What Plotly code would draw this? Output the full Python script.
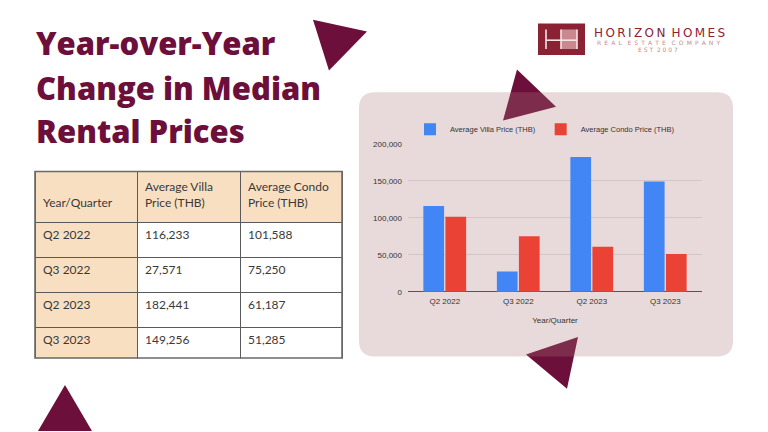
import plotly.graph_objects as go

# ---------------- data ----------------
quarters = ["Q2 2022", "Q3 2022", "Q2 2023", "Q3 2023"]
villa_prices = [116233, 27571, 182441, 149256]
condo_prices = [101588, 75250, 61187, 51285]
series_names = ["Average Villa Price (THB)", "Average Condo Price (THB)"]
table_headers = ["Year/Quarter", "Average Villa<br>Price (THB)", "Average Condo<br>Price (THB)"]
title_lines = ["Year-over-Year", "Change in Median", "Rental Prices"]
y_ticks = [0, 50000, 100000, 150000, 200000]

W, H = 768, 432
MAROON = "#6d0f3b"
PEACH = "#f9dfc1"
BLUE = "#4285f4"
RED = "#ea4335"


def px(x):
    return x / W


def py(y):
    return 1 - y / H


def poly(points):
    return "M " + " L ".join(f"{px(x):.5f},{py(y):.5f}" for x, y in points) + " Z"


def rounded_rect(x0, y0, x1, y1, r):
    rx, ry = r / W, r / H
    X0, X1 = px(x0), px(x1)
    Y0, Y1 = py(y0), py(y1)
    return (
        f"M {X0+rx},{Y0} L {X1-rx},{Y0} Q {X1},{Y0} {X1},{Y0-ry} "
        f"L {X1},{Y1+ry} Q {X1},{Y1} {X1-rx},{Y1} "
        f"L {X0+rx},{Y1} Q {X0},{Y1} {X0},{Y1+ry} "
        f"L {X0},{Y0-ry} Q {X0},{Y0} {X0+rx},{Y0} Z"
    )


fig = go.Figure()

fig.add_trace(go.Bar(x=quarters, y=villa_prices, name=series_names[0],
                     marker=dict(color=BLUE, line=dict(width=0))))
fig.add_trace(go.Bar(x=quarters, y=condo_prices, name=series_names[1],
                     marker=dict(color=RED, line=dict(width=0))))

fig.add_trace(go.Table(
    domain=dict(x=[px(35), px(342)], y=[py(362), py(171)]),
    columnwidth=[102, 103, 102],
    header=dict(values=["\u00a0<br>" + table_headers[0]] + table_headers[1:],
                fill_color=PEACH, align="left",
                line=dict(color="#5a5a5a", width=1),
                font=dict(family="Lato", size=12, color="#3a3a3a"), height=51),
    cells=dict(values=[quarters,
                       [f"{v:,}" for v in villa_prices],
                       [f"{v:,}" for v in condo_prices]],
               fill_color=[[PEACH] * len(quarters), ["white"] * len(quarters), ["white"] * len(quarters)],
               align="left", line=dict(color="#5a5a5a", width=1),
               font=dict(family="Lato", size=12, color="#3a3a3a"), height=35),
))

P = dict(xref="paper", yref="paper")
shapes = []
shapes.append(dict(type="path", path=poly([(313, 16), (367, 28), (329, 68)]),
                   fillcolor=MAROON, line=dict(width=0), layer="below", **P))
shapes.append(dict(type="path", path=poly([(517, 67), (556, 105), (503, 119)]),
                   fillcolor=MAROON, line=dict(width=0), layer="below", **P))
shapes.append(dict(type="path", path=poly([(578, 340), (526, 358), (567, 393)]),
                   fillcolor=MAROON, line=dict(width=0), layer="below", **P))
shapes.append(dict(type="path", path=poly([(65, 389), (38, 436), (92, 436)]),
                   fillcolor=MAROON, line=dict(width=0), layer="below", **P))
shapes.append(dict(type="path", path=rounded_rect(359, 90, 733, 360, 16),
                   fillcolor="rgba(173,123,123,0.28)", line=dict(width=0), layer="below", **P))
# table outer border
shapes.append(dict(type="rect", x0=px(35), x1=px(342), y0=py(361.5), y1=py(171),
                   fillcolor="rgba(0,0,0,0)", line=dict(color="#6a6a6a", width=1.6),
                   layer="above", **P))
# logo
shapes.append(dict(type="rect", x0=px(538), x1=px(585), y0=py(52), y1=py(20),
                   fillcolor="#8b2233", line=dict(width=0), layer="above", **P))
shapes.append(dict(type="rect", x0=px(561), x1=px(577), y0=py(46), y1=py(26),
                   fillcolor="#c9898f", line=dict(width=0), layer="above", **P))
for xx in (546, 561, 577):
    shapes.append(dict(type="line", x0=px(xx), x1=px(xx), y0=py(46), y1=py(26),
                       line=dict(color="#f4e6e6", width=1.6), layer="above", **P))
shapes.append(dict(type="line", x0=px(546), x1=px(577), y0=py(37), y1=py(37),
                   line=dict(color="#f4e6e6", width=1.6), layer="above", **P))

annotations = []
for i, (line, yc) in enumerate(zip(title_lines, [39.5, 86, 129.5])):
    annotations.append(dict(text=line, x=px(34), y=py(yc), xref="paper", yref="paper",
                            xanchor="left", yanchor="middle", showarrow=False,
                            font=dict(family="Open Sans", size=31, color=MAROON, weight=800)))

TS = "\u2009"
brand = (" " + TS).join([TS.join(list(w)) for w in ["HORIZON", "HOMES"]])
sub = "   ".join([(" " + TS).join(list(w)) for w in ["REAL", "ESTATE", "COMPANY"]])
annotations.append(dict(text=brand, x=px(659), y=py(30), xref="paper", yref="paper",
                        xanchor="center", yanchor="middle", showarrow=False,
                        font=dict(family="DejaVu Sans", size=12, color="#8b2233")))
annotations.append(dict(text=sub, x=px(658), y=py(39.5), xref="paper", yref="paper",
                        xanchor="center", yanchor="middle", showarrow=False,
                        font=dict(family="DejaVu Sans", size=6, color="#c08a92")))
annotations.append(dict(text="E S T  2 0 0 7", x=px(658), y=py(46.5), xref="paper", yref="paper",
                        xanchor="center", yanchor="middle", showarrow=False,
                        font=dict(family="DejaVu Sans", size=6, color="#c08a92")))

fig.update_layout(
    width=W, height=H, autosize=False,
    margin=dict(l=0, r=0, t=0, b=0, pad=0),
    paper_bgcolor="white", plot_bgcolor="rgba(0,0,0,0)",
    barmode="group", bargap=0.4, bargroupgap=0.06,
    shapes=shapes, annotations=annotations,
    showlegend=True,
    legend=dict(orientation="h", x=px(545), xanchor="center", y=py(128), yanchor="middle",
                font=dict(family="Liberation Sans", size=7.5, color="#333333"),
                bgcolor="rgba(0,0,0,0)", itemwidth=30, tracegroupgap=0),
    xaxis=dict(domain=[px(408), px(702)], showgrid=False, showline=False, ticks="",
               ticklabelstandoff=3,
               tickfont=dict(family="Liberation Sans", size=8, color="#333333"),
               title=dict(text="Year/Quarter", standoff=12,
                          font=dict(family="Liberation Sans", size=8, color="#333333"))),
    yaxis=dict(domain=[py(294), py(143)], range=[0, 200000], tickvals=y_ticks,
               tickformat=",", showgrid=True, gridcolor="#d3c6c6", gridwidth=1,
               zeroline=True, zerolinecolor="#555555", zerolinewidth=1,
               showline=False, ticks="", ticklabelstandoff=5,
               tickfont=dict(family="Liberation Sans", size=8, color="#333333")),
)

fig.write_html("out.html", config=dict(displayModeBar=False),
               post_script="document.body.style.margin='0';")
